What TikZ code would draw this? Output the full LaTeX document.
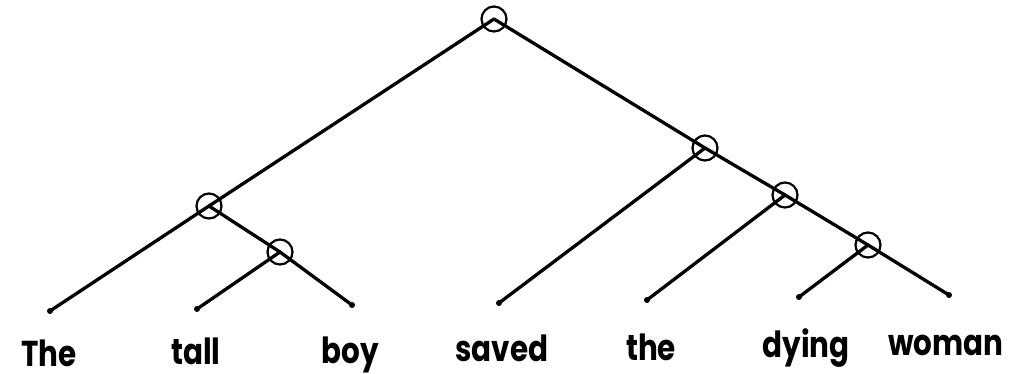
\documentclass[tikz,border=0pt]{standalone}
\usepackage{fontspec}
\setmainfont{Poppins}
\begin{document}
\begin{tikzpicture}[x=1pt,y=-1pt,
  branch/.style={line width=3.3pt,line cap=round},
  joint/.style={circle,draw,line width=2.2pt,minimum size=25pt,inner sep=0pt},
  leaf/.style={circle,fill,minimum size=6pt,inner sep=0pt},
  word/.style={anchor=base,inner sep=0pt,font=\fontsize{30}{30}\selectfont\bfseries}]
\useasboundingbox (0,0) rectangle (1009,373);
% joints
\node[joint] (r) at (494,19) {};
\node[joint] (a) at (209,206) {};
\node[joint] (b) at (280,252) {};
\node[joint] (c) at (705,148) {};
\node[joint] (d) at (785,195) {};
\node[joint] (e) at (868,245) {};
% leaves
\node[leaf] (l1) at (50,311) {};
\node[leaf] (l2) at (197,309) {};
\node[leaf] (l3) at (352,305) {};
\node[leaf] (l4) at (499,303) {};
\node[leaf] (l5) at (647,300) {};
\node[leaf] (l6) at (799,297) {};
\node[leaf] (l7) at (949,295) {};
% branches
\draw[branch] (r.center) -- (a.center);
\draw[branch] (a.center) -- (l1.center);
\draw[branch] (a.center) -- (b.center);
\draw[branch] (b.center) -- (l2.center);
\draw[branch] (b.center) -- (l3.center);
\draw[branch] (r.center) -- (c.center);
\draw[branch] (c.center) -- (l4.center);
\draw[branch] (c.center) -- (d.center);
\draw[branch] (d.center) -- (l5.center);
\draw[branch] (d.center) -- (e.center);
\draw[branch] (e.center) -- (l6.center);
\draw[branch] (e.center) -- (l7.center);
% words
\node[word] (w1) at (49,366) {\scalebox{0.98}[1.2]{The}};
\node[word] (w2) at (196,364) {\scalebox{0.98}[1.2]{tall}};
\node[word] (w3) at (350,363) {\scalebox{0.98}[1.2]{boy}};
\node[word] (w4) at (502,361) {\scalebox{0.98}[1.2]{saved}};
\node[word] (w5) at (651,360) {\scalebox{0.98}[1.2]{the}};
\node[word] (w6) at (806,357) {\scalebox{0.98}[1.2]{dying}};
\node[word] (w7) at (946,355) {\scalebox{0.98}[1.2]{woman}};
\end{tikzpicture}
\end{document}
